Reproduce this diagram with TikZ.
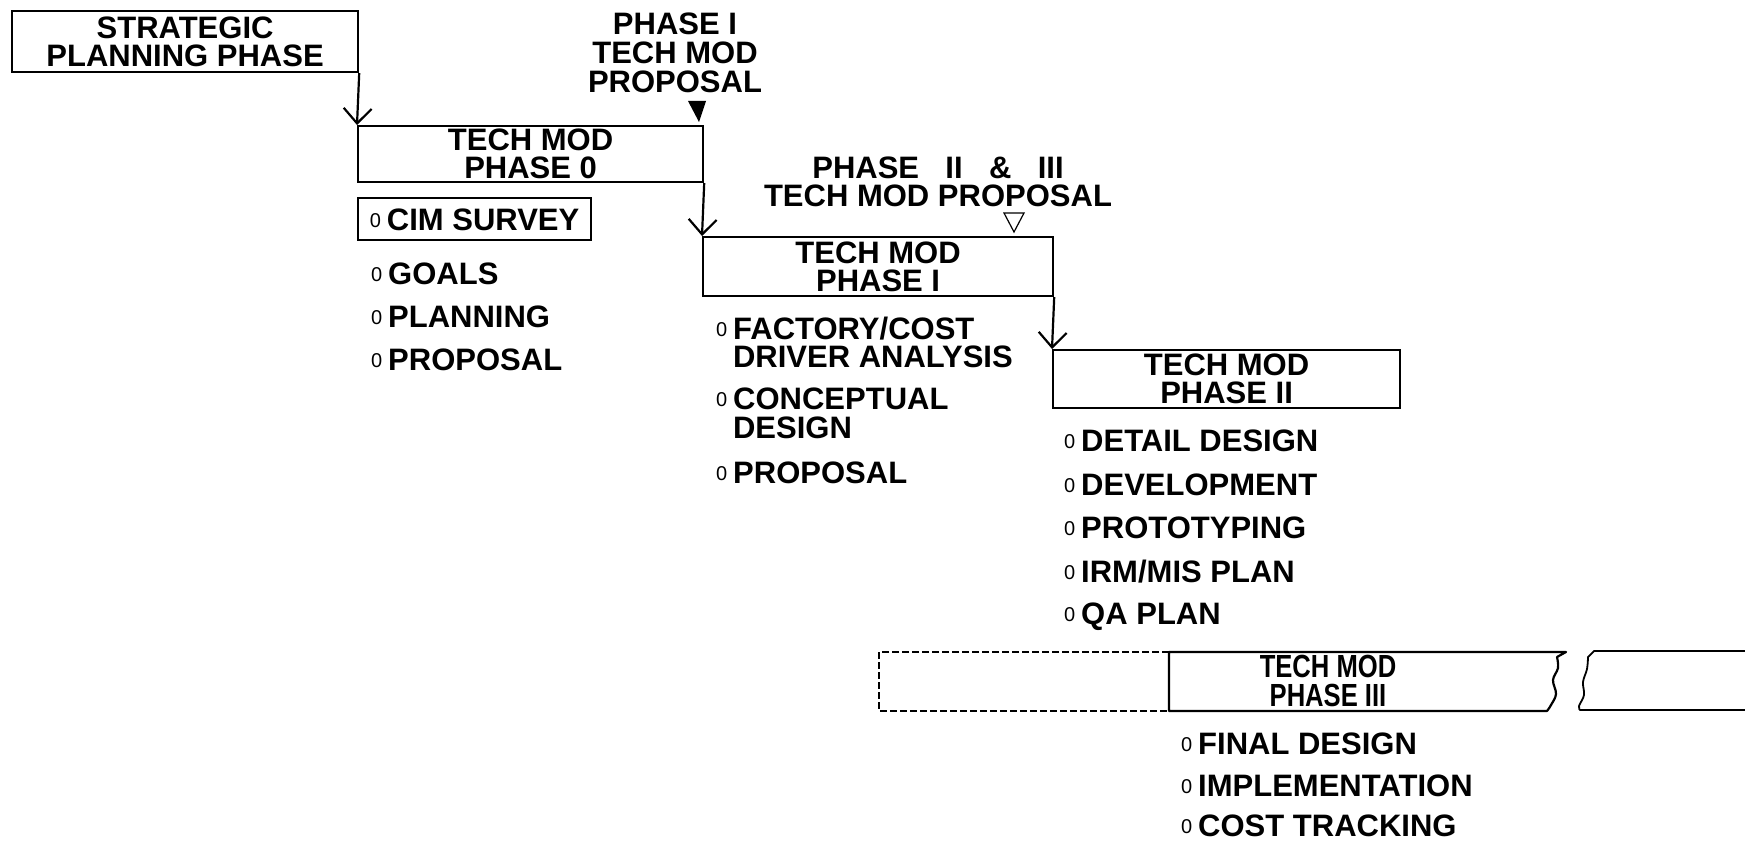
\documentclass[tikz,border=0pt]{standalone}
\usepackage{fontspec}
\setmainfont{Liberation Sans}
\newfontfamily\condsans[FakeStretch=0.8]{Liberation Sans}
\usetikzlibrary{arrows.meta}

% type faces used in the chart
\newcommand\widetype{\fontsize{31}{28}\selectfont\bfseries}
\newcommand\condtype{\condsans\fontsize{32}{29}\selectfont\bfseries}
\newcommand\bulletmark{\raisebox{2.5pt}{\fontsize{20}{20}\selectfont\mdseries 0}\hspace{6pt}}

\begin{document}
\begin{tikzpicture}[x=1pt, y=-1pt, line width=2.2pt,
  phasebox/.style={draw, line width=2.2pt, inner sep=0pt, align=center,
                   anchor=north west, font=\widetype},
  itembox/.style={draw, line width=2.2pt, inner sep=0pt, anchor=north west,
                  text height=22pt, text depth=0pt, font=\widetype},
  item/.style={anchor=base west, inner sep=0pt, font=\widetype},
  link/.style={line width=2.2pt,
               -{Straight Barb[length=15pt,width=28pt,line width=2.2pt]}}]
\useasboundingbox (0,0) rectangle (1745,842);

% phase boxes
\node[phasebox, minimum width=346pt, minimum height=61pt]
  (strat) at (11,10) {STRATEGIC\\PLANNING PHASE};
\node[phasebox, minimum width=345pt, minimum height=56pt]
  (p0) at (357,125) {TECH MOD\\PHASE 0};
\node[phasebox, minimum width=350pt, minimum height=59pt]
  (p1) at (702,236) {TECH MOD\\PHASE I};
\node[phasebox, minimum width=347pt, minimum height=58pt]
  (p2) at (1052,349) {TECH MOD\\PHASE II};

% phase III: dashed lead-in, open-ended bar with break marks
\draw[dash pattern=on 7pt off 3pt] (1169,652) -- (879,652) -- (879,711) -- (1169,711);
\draw[line join=round] (1169,711) -- (1169,652) -- (1566,652)
  -- plot[smooth, tension=0.6] coordinates
     {(1557,657) (1558,668) (1553,680) (1556,694) (1551,705) (1547,711)}
  -- cycle;
\draw[line width=1.8pt, line join=round] (1745,651) -- (1594,651)
  -- plot[smooth, tension=0.6] coordinates
     {(1588,657) (1587,669) (1583,682) (1584,695) (1579,706) (1580,710)}
  -- (1745,710);
\node[font=\condtype, align=center, inner sep=0pt] (p3) at (1328,681)
  {TECH MOD\\PHASE III};

% transitions between phases
\draw[link] (strat.south east) -- (p0.north west);
\draw[link] (p0.south east) -- (p1.north west);
\draw[link] (p1.south east) -- (p2.north west);

% proposal milestones
\node[font=\fontsize{31}{29}\selectfont\bfseries, align=center,
      inner sep=0pt] (prop1) at (675,53) {PHASE I\\TECH MOD\\PROPOSAL};
\fill (688,101) -- (706,101) -- (699,122) -- cycle;
\node[font=\widetype, align=center, inner sep=0pt] (prop23) at (938,182)
  {PHASE\hspace{0.85em}II\hspace{0.85em}\&\hspace{0.85em}III\\TECH MOD PROPOSAL};
\draw[line width=1.2pt] (1004,213) -- (1024,213) -- (1014,232) -- cycle;

% phase 0 activities
\node[itembox, minimum width=233pt, minimum height=42pt]
  (cim) at (357,197) {\bulletmark CIM SURVEY};
\node[item] (goals) at (370,284) {\bulletmark GOALS};
\node[item] (plan) at (370,327) {\bulletmark PLANNING};
\node[item] (prop0) at (370,370) {\bulletmark PROPOSAL};

% phase I activities
\node[item] (fact) at (715,339) {\bulletmark FACTORY/COST};
\node[item] (drv) at (732,367) {DRIVER ANALYSIS};
\node[item] (conc) at (715,409) {\bulletmark CONCEPTUAL};
\node[item] (des) at (732,438) {DESIGN};
\node[item] (prop1i) at (715,483) {\bulletmark PROPOSAL};

% phase II activities
\node[item] (det) at (1063,451) {\bulletmark DETAIL DESIGN};
\node[item] (dev) at (1063,495) {\bulletmark DEVELOPMENT};
\node[item] (proto) at (1063,538) {\bulletmark PROTOTYPING};
\node[item] (irm) at (1063,582) {\bulletmark IRM/MIS PLAN};
\node[item] (qa) at (1063,624) {\bulletmark QA PLAN};

% phase III activities
\node[item] (fin) at (1180,754) {\bulletmark FINAL DESIGN};
\node[item] (impl) at (1180,796) {\bulletmark IMPLEMENTATION};
\node[item] (cost) at (1180,836) {\bulletmark COST TRACKING};
\end{tikzpicture}
\end{document}
